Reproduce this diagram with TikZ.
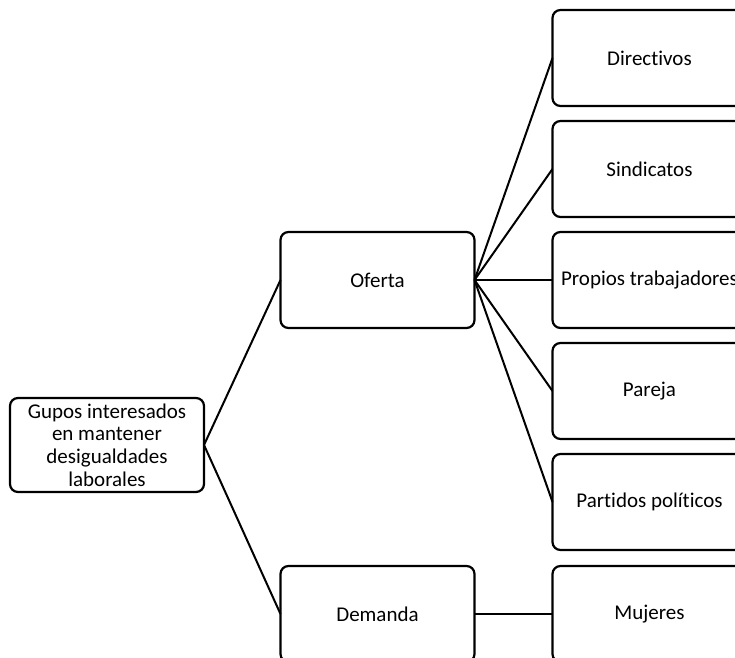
\documentclass[tikz,border=0pt]{standalone}
\usepackage{fontspec}
\setmainfont{Carlito}[Ligatures={NoCommon,NoRare}]
\usetikzlibrary{positioning,calc}

\begin{document}
\begin{tikzpicture}[
  x=0.5pt, y=-0.5pt,
  node distance=7.5pt and 39pt,
  box/.style={rectangle, draw, line width=1.1pt, outer sep=0pt, minimum width=97pt, minimum height=48pt, rounded corners=4pt, align=center, font=\fontsize{10.5}{11.3}\selectfont, inner sep=2pt},
  link/.style={line width=1pt},
]
  \useasboundingbox (0,0) rectangle (735,658);

  % Second level
  \node[box] at (377.5,280) (ofe) {Oferta};
  \node[box] at (377.5,614) (dem) {Demanda};

  % Root
  \node[box, minimum height=47pt] at (107,445) (root) {Gupos interesados\\en mantener\\desigualdades\\laborales};

  % Third level
  \node[box, right=of ofe] (prop) {Propios trabajadores};
  \node[box, above=of prop] (sind) {Sindicatos};
  \node[box, above=of sind] (dir) {Directivos};
  \node[box, below=of prop] (par) {Pareja};
  \node[box, below=of par] (part) {Partidos políticos};
  \node[box, right=of dem] (muj) {Mujeres};

  % Links
  \draw[link] (root.east) -- (ofe.west);
  \draw[link] (root.east) -- (dem.west);
  \foreach \n in {dir,sind,prop,par,part}
    \draw[link] (ofe.east) -- (\n.west);
  \draw[link] (dem.east) -- (muj.west);
\end{tikzpicture}
\end{document}
